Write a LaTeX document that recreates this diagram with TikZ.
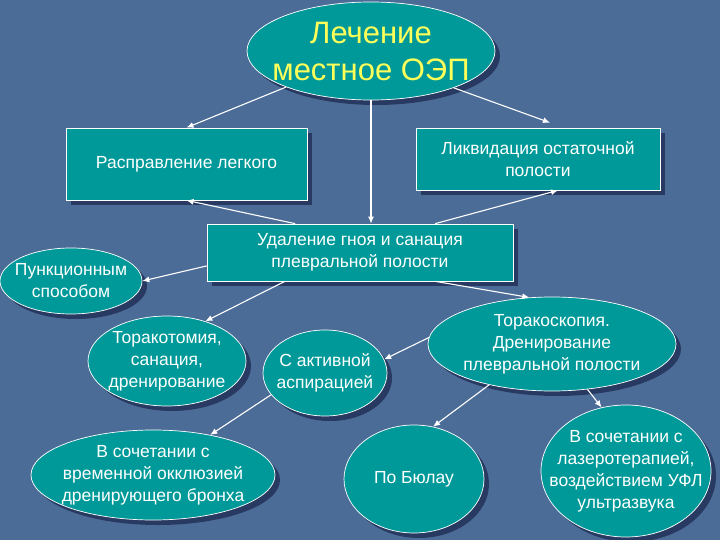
\documentclass[tikz,border=0pt]{standalone}
\usepackage{fontspec}
\setmainfont{Liberation Sans}
\usetikzlibrary{shapes.geometric,shadows,arrows.meta}
\definecolor{bgblue}{RGB}{76,108,152}
\definecolor{tealfill}{RGB}{0,153,153}
\definecolor{shadowblue}{RGB}{40,58,98}
\definecolor{titleyellow}{RGB}{255,255,90}
\tikzset{
  block/.style={rectangle,draw=white,line width=0.7pt,fill=tealfill,text=white,align=center,
    font=\fontsize{17.5}{22}\selectfont,
    drop shadow={shadow xshift=5pt,shadow yshift=-5pt,fill=shadowblue,opacity=1}},
  oval/.style={ellipse,draw=white,line width=0.7pt,fill=tealfill,text=white,align=center,
    inner xsep=-25pt,inner ysep=-10pt,font=\fontsize{17.5}{22}\selectfont,
    drop shadow={shadow xshift=5pt,shadow yshift=-5pt,fill=shadowblue,opacity=1}},
  link/.style={draw=white,line width=1.1pt,-{Latex[length=7pt,width=6pt]}}
}
\begin{document}
\begin{tikzpicture}[x=1pt,y=-1pt]
  % Фон
  \fill[bgblue] (0,0) rectangle (720,540);
  \useasboundingbox (0,0) rectangle (720,540);
  % Верхний уровень
  \node[oval,minimum width=248pt,minimum height=98pt,text=titleyellow,
    font=\fontsize{31}{37}\selectfont] (top) at (371,51) {Лечение\\местное ОЭП};
  \node[block,minimum width=241pt,minimum height=72pt] (rasp) at (186.5,164) {Расправление легкого};
  \node[block,minimum width=244pt,minimum height=62pt] (likv) at (538,159) {Ликвидация остаточной\\полости};
  \node[block,minimum width=306pt,minimum height=57pt] (udal) at (360,252.5) {Удаление гноя и санация\\плевральной полости};
  % Способы
  \node[oval,minimum width=142pt,minimum height=66pt] (punk) at (71,281) {Пункционным\\способом};
  \node[oval,minimum width=158pt,minimum height=90pt] (torakot) at (167,361) {Торакотомия,\\санация,\\дренирование};
  \node[oval,minimum width=124pt,minimum height=86pt] (aktiv) at (325,373) {С активной\\аспирацией};
  \node[oval,minimum width=248pt,minimum height=94pt] (torakosk) at (552,344) {Торакоскопия.\\Дренирование\\плевральной полости};
  \node[oval,minimum width=244pt,minimum height=90pt] (okkl) at (153,475) {В сочетании с\\временной окклюзией\\дренирующего бронха};
  \node[oval,minimum width=140pt,minimum height=108pt] (bulau) at (414,479) {По Бюлау};
  \node[oval,minimum width=170pt,minimum height=132pt] (laser) at (626,471) {В сочетании с\\лазеротерапией,\\воздействием УФЛ\\ультразвука};
  % Стрелки
  \draw[link] (top.-157) -- (rasp.north);
  \draw[link] (top.-24) -- ([xshift=12pt,yshift=5pt]likv.north);
  \draw[link] (top.south) -- (top.south |- udal.north);
  \draw[link] (udal.156) -- (rasp.south);
  \draw[link] (udal.21) -- ([xshift=20pt]likv.south);
  \draw[link] (udal.185) -- (punk.east);
  \draw[link] (udal.201) -- (torakot.46);
  \draw[link] (udal.-21) -- (torakosk.116);
  \draw[link] (torakosk.177) -- (aktiv.13);
  \draw[link] (aktiv.202) -- (okkl.35);
  \draw[link] (torakosk.213) -- (bulau.70);
  \draw[link] (torakosk.-52) -- (laser.111);
\end{tikzpicture}
\end{document}
